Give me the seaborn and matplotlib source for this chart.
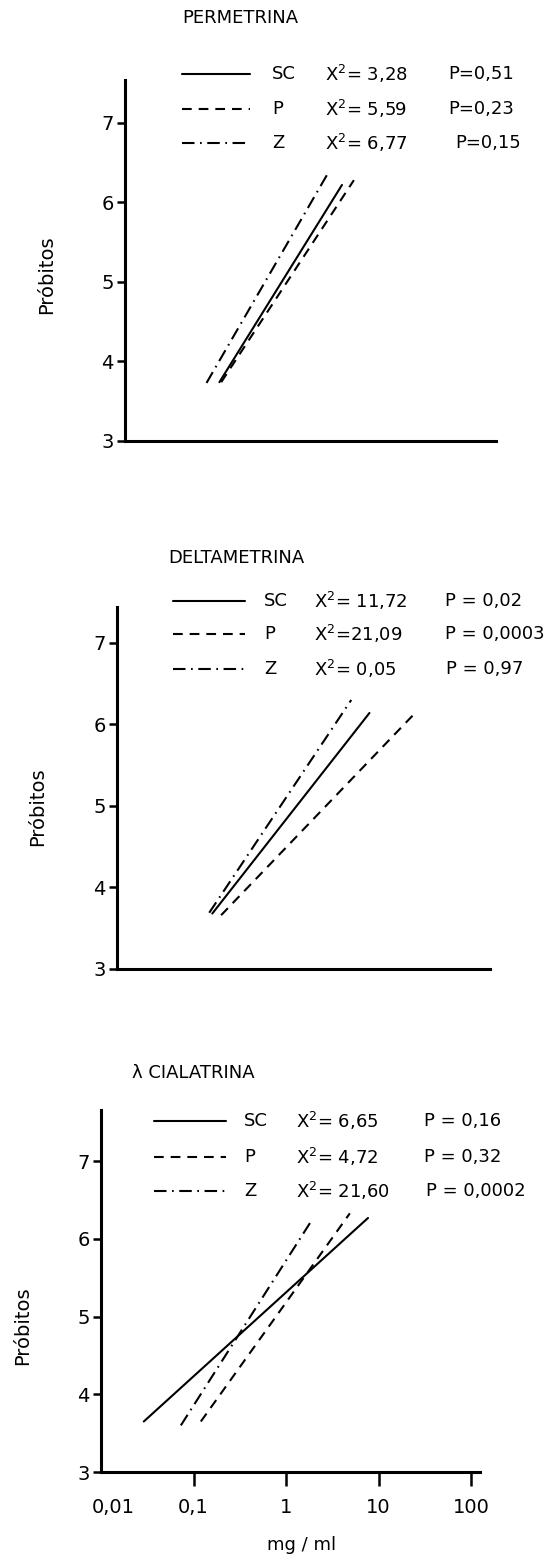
import numpy as np
import pandas as pd
import seaborn as sns
import matplotlib.pyplot as plt
from matplotlib.lines import Line2D
from matplotlib.ticker import NullLocator
from matplotlib.transforms import ScaledTranslation

# Data (dose in mg/ml, probit units)
panels = ["PERMETRINA", "DELTAMETRINA", "λ CIALATRINA"]
strains = ["SC", "P", "Z"]

perm_dose = [[0.108, 2.37], [0.113, 3.2], [0.078, 1.71]]
perm_probit = [[3.74, 6.22], [3.74, 6.28], [3.73, 6.39]]

delta_dose = [[0.109, 5.6], [0.136, 17.6], [0.101, 3.55]]
delta_probit = [[3.68, 6.14], [3.66, 6.14], [3.69, 6.30]]

lambda_dose = [[0.029, 7.7], [0.12, 4.9], [0.073, 1.92]]
lambda_probit = [[3.65, 6.27], [3.65, 6.33], [3.60, 6.25]]

perm_chi = ["= 3,28", "= 5,59", "= 6,77"]
perm_p = ["P=0,51", "P=0,23", "P=0,15"]
delta_chi = ["= 11,72", "=21,09", "= 0,05"]
delta_p = ["P = 0,02", "P = 0,0003", "P = 0,97"]
lambda_chi = ["= 6,65", "= 4,72", "= 21,60"]
lambda_p = ["P = 0,16", "P = 0,32", "P = 0,0002"]

x_ticks = [0.01, 0.1, 1, 10, 100]
x_ticklabels = ["0,01", "0,1", "1", "10", "100"]
y_ticks = [3, 4, 5, 6, 7]

# long table for seaborn
rows = []
for name, doses, probits in zip(panels,
                                [perm_dose, delta_dose, lambda_dose],
                                [perm_probit, delta_probit, lambda_probit]):
    for s, d, p in zip(strains, doses, probits):
        for dd, pp in zip(d, p):
            rows.append({"panel": name, "strain": s, "dose": dd, "probit": pp})
df = pd.DataFrame(rows)

sns.set_theme(style="white")
plt.rcParams["font.family"] = ["DejaVu Sans"]
plt.rcParams["mathtext.default"] = "regular"
plt.rcParams["lines.scale_dashes"] = False
for key in ["text.color", "axes.labelcolor", "xtick.color", "ytick.color"]:
    plt.rcParams[key] = "black"

W, H = 556, 1555
fig = plt.figure(figsize=(W / 100, H / 100), dpi=100)


def fx(x):
    return x / W


def fy(y):
    return 1 - y / H


dash_map = {"SC": "", "P": (7, 5), "Z": (9, 4, 1.2, 4)}

# pixel boxes (left, right, top, bottom) of each panel
boxes = [(125, 496, 80, 441), (117, 490, 607, 969), (101, 480, 1110, 1472)]
ytops = [7.54, 7.44, 7.66]
xmaxs = [115, 115, 125]
title_pos = [(182, 18), (168, 558), (132, 1073)]
ylabel_pos = [(47, 275), (38, 807), (23, 1326)]
legend_cfg = [
    dict(sample=(182, 250), rows=[74, 109, 143], xs=272, xc=325, xp=[448, 448, 455],
         chi=perm_chi, p=perm_p),
    dict(sample=(173, 245), rows=[601, 634, 669], xs=264, xc=314, xp=[445, 445, 446],
         chi=delta_chi, p=delta_p),
    dict(sample=(154, 226), rows=[1121, 1157, 1191], xs=244, xc=296, xp=[424, 424, 426],
         chi=lambda_chi, p=lambda_p),
]

for i, name in enumerate(panels):
    l, r, t, b = boxes[i]
    ax = fig.add_axes([fx(l), fy(b), (r - l) / W, (b - t) / H])
    sub = df[df["panel"] == name]
    sns.lineplot(data=sub, x="dose", y="probit", style="strain", dashes=dash_map,
                 estimator=None, sort=False, color="black", lw=1.5,
                 legend=False, ax=ax)
    ax.set_xscale("log")
    ax.set_xlim(0.01, xmaxs[i])
    ax.set_ylim(3, ytops[i])
    ax.set_xlabel("")
    ax.set_ylabel("")

    for side in ["top", "right"]:
        ax.spines[side].set_visible(False)
    for side in ["left", "bottom"]:
        ax.spines[side].set_linewidth(2.2)
        ax.spines[side].set_color("black")

    ax.set_yticks(y_ticks)
    ax.set_yticklabels([str(v) for v in y_ticks])
    ax.tick_params(axis="y", left=True, direction="out", length=6, width=1.8,
                   pad=2, labelsize=14, color="black")
    ax.xaxis.set_minor_locator(NullLocator())

    if i < 2:
        ax.set_xticks([])
    else:
        ax.set_xticks(x_ticks)
        ax.set_xticklabels(x_ticklabels)
        ax.tick_params(axis="x", bottom=True, direction="out", length=10, width=1.8,
                       pad=9, labelsize=14, color="black")
        ax.xaxis.get_major_ticks()[0].tick1line.set_visible(False)
        lab = ax.get_xticklabels()[0]
        lab.set_transform(lab.get_transform() + ScaledTranslation(0.12, 0, fig.dpi_scale_trans))
        fig.text(fx(302), fy(1545), "mg / ml", ha="center", va="center", fontsize=13)

    # title and y label
    fig.text(fx(title_pos[i][0]), fy(title_pos[i][1]), name, ha="left", va="center",
             fontsize=13)
    fig.text(fx(ylabel_pos[i][0]), fy(ylabel_pos[i][1]), "Próbitos", rotation=90,
             ha="center", va="center", fontsize=14)

    # hand-made legend block
    cfg = legend_cfg[i]
    for j, s in enumerate(strains):
        y = fy(cfg["rows"][j])
        ls = "-" if dash_map[s] == "" else (0, dash_map[s])
        fig.add_artist(Line2D([fx(cfg["sample"][0]), fx(cfg["sample"][1])], [y, y],
                              transform=fig.transFigure, color="black", lw=1.5,
                              linestyle=ls))
        fig.text(fx(cfg["xs"]), y, s, ha="left", va="center", fontsize=13)
        fig.text(fx(cfg["xc"]), y, "X$^2$" + cfg["chi"][j], ha="left", va="center",
                 fontsize=13)
        fig.text(fx(cfg["xp"][j]), y, cfg["p"][j], ha="left", va="center", fontsize=13)

fig.savefig("out.png", dpi=100, facecolor="white")
